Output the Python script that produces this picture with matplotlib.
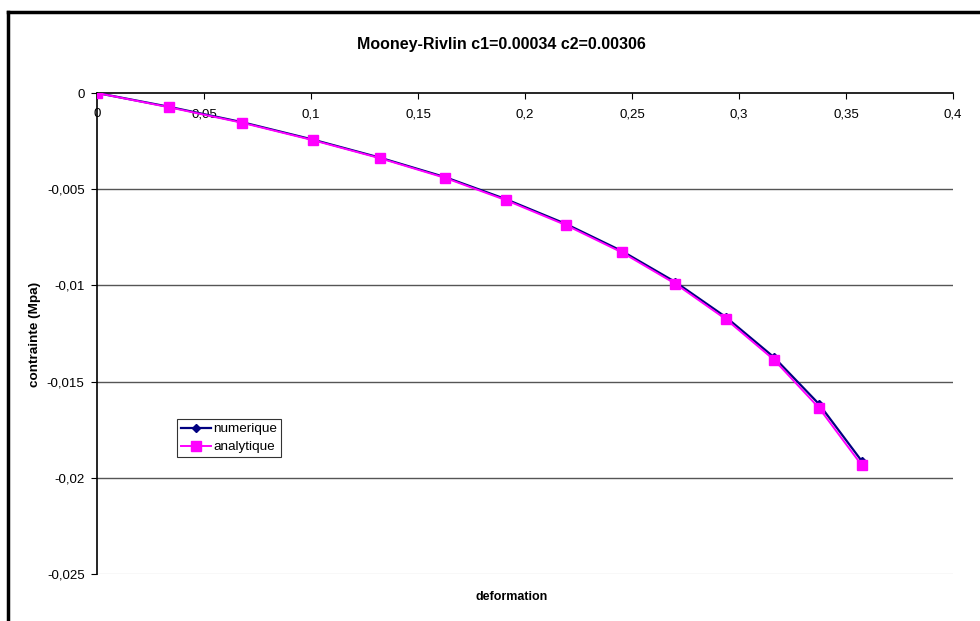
import matplotlib.pyplot as plt
from matplotlib.lines import Line2D
from matplotlib.ticker import FuncFormatter

plt.rcParams['font.family'] = ['Liberation Sans', 'DejaVu Sans']

# values
deformation = [0.0, 0.0338, 0.0679, 0.1008, 0.1322, 0.1626, 0.1911,
               0.2190, 0.2452, 0.2702, 0.2939, 0.3164, 0.3374, 0.3573]
numerique = [0.0, -0.00072, -0.00152, -0.00242, -0.00336, -0.00437, -0.00552,
             -0.00680, -0.00821, -0.00982, -0.01165, -0.01374, -0.01617, -0.01912]
analytique = [0.0, -0.000745, -0.00155, -0.00245, -0.00339, -0.00441, -0.00557,
              -0.00686, -0.00828, -0.00991, -0.01176, -0.01387, -0.01637, -0.01934]

xticks = [0, 0.05, 0.1, 0.15, 0.2, 0.25, 0.3, 0.35, 0.4]
yticks = [0, -0.005, -0.01, -0.015, -0.02, -0.025]

fig = plt.figure(figsize=(9.8, 6.21), dpi=100)
ax = fig.add_axes([97 / 980, 1 - 574 / 621, 856 / 980, 481 / 621])

# gridlines
for y in yticks[1:-1]:
    ax.axhline(y, color='#555555', lw=1.0, zorder=1)
ax.axhline(-0.025, color='#dddddd', lw=1.0, zorder=1)

ax.plot(deformation, numerique, color='#000080', lw=1.6, marker='D',
        markersize=4, label='numerique', zorder=3)
ax.plot(deformation, analytique, color='#ff00ff', lw=1.4, marker='s',
        markersize=6.5, label='analytique', zorder=4)

ax.set_xlim(0, 0.4)
ax.set_ylim(-0.025, 0)
ax.set_xticks(xticks)
ax.set_yticks(yticks)

def comma(v, pos):
    s = ('%g' % v).replace('.', ',')
    return '0' if s == '-0' else s

ax.xaxis.set_major_formatter(FuncFormatter(comma))
ax.yaxis.set_major_formatter(FuncFormatter(comma))

# x axis sits at y = 0 (top of the plot area)
ax.xaxis.set_ticks_position('top')
ax.tick_params(axis='x', direction='in', length=4, pad=-11, labelsize=9.5,
               labeltop=True, labelbottom=False, color='black')
ax.tick_params(axis='y', direction='out', length=4, pad=5, labelsize=9.5)
for lbl in ax.get_xticklabels():
    lbl.set_verticalalignment('top')

for side in ['right', 'bottom']:
    ax.spines[side].set_visible(False)
ax.spines['top'].set_linewidth(1.2)
ax.spines['left'].set_linewidth(1.2)

fig.text(512 / 980, 1 - 597 / 621, 'deformation', ha='center', va='center',
         fontsize=9, fontweight='bold')
fig.text(35 / 980, 1 - 334 / 621, 'contrainte (Mpa)', ha='center',
         va='center', rotation=90, fontsize=9.7, fontweight='bold')
fig.text(501 / 980, 1 - 45 / 621, 'Mooney-Rivlin c1=0.00034 c2=0.00306',
         ha='center', va='center', fontsize=11.5, fontweight='bold')

leg = ax.legend(loc='upper left', bbox_to_anchor=((177 - 97) / 856, (574 - 419) / 481),
                fontsize=9.7, frameon=True, fancybox=False, handlelength=2.2,
                borderpad=0.3, labelspacing=0.4, handletextpad=0.2,
                borderaxespad=0)
leg.get_frame().set_edgecolor('black')
leg.get_frame().set_linewidth(0.8)

# outer chart border (left and top visible)
fig.add_artist(Line2D([8 / 980, 8 / 980], [0, 1 - 12 / 621], color='black', lw=2.5))
fig.add_artist(Line2D([8 / 980, 1], [1 - 12 / 621, 1 - 12 / 621], color='black', lw=2.5))

fig.savefig('out.png', dpi=100)
